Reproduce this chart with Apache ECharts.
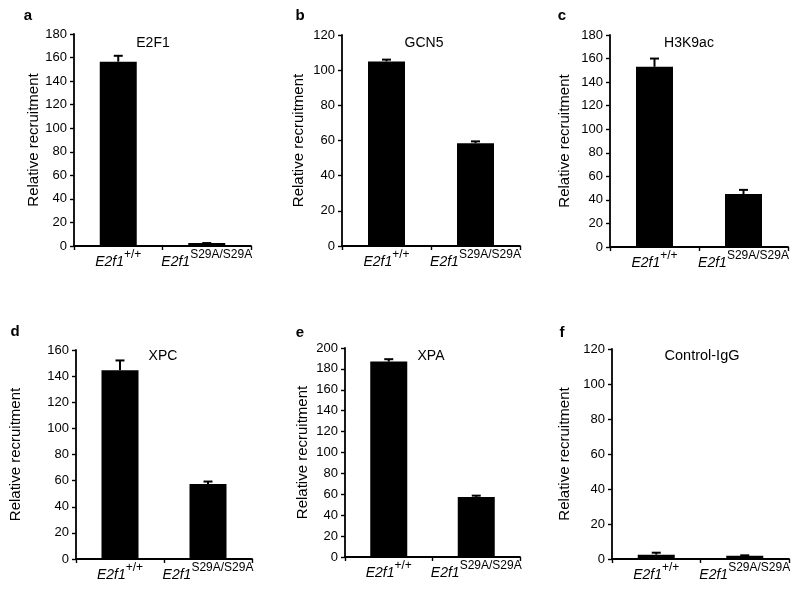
<!DOCTYPE html>
<html>
<head>
<meta charset="utf-8">
<script src="https://cdn.jsdelivr.net/npm/echarts@6/dist/echarts.min.js"></script>
<style>html,body{margin:0;padding:0;background:#fff;}#main{width:800px;height:590px;}</style>
</head>
<body>
<div id="main"></div>
<script>
// ---- data ----
const categories = ['E2f1+/+', 'E2f1S29A/S29A'];
const panelLetters = ['a', 'b', 'c', 'd', 'e', 'f'];
const panelTitles = ['E2F1', 'GCN5', 'H3K9ac', 'XPC', 'XPA', 'Control-IgG'];
const yMaxes = [180, 120, 180, 160, 200, 120];
const yInterval = 20;
const e2f1Values = [156.5, 2.5];
const e2f1Errors = [5, 0];
const gcn5Values = [105, 58.5];
const gcn5Errors = [1, 1];
const h3k9acValues = [153, 45];
const h3k9acErrors = [7, 3.5];
const xpcValues = [144.5, 57.5];
const xpcErrors = [7.5, 1.8];
const xpaValues = [187, 57.5];
const xpaErrors = [2.3, 1.2];
const iggValues = [2.5, 1.9];
const iggErrors = [1.1, 0.2];
const allValues = [e2f1Values, gcn5Values, h3k9acValues, xpcValues, xpaValues, iggValues];
const allErrors = [e2f1Errors, gcn5Errors, h3k9acErrors, xpcErrors, xpaErrors, iggErrors];

// ---- layout ----
const grids = [
  {left: 74, top: 34, width: 177, height: 212},
  {left: 342, top: 35, width: 178, height: 211},
  {left: 610, top: 35, width: 178, height: 212},
  {left: 76, top: 350, width: 176, height: 209},
  {left: 345, top: 348, width: 175, height: 209},
  {left: 612, top: 349, width: 177, height: 210}
];
const nameGaps = [33, 36, 38, 53, 35, 40];
const titlePos = [[153, 43], [424, 43], [689, 43], [163, 356], [431, 356], [702, 356]];
const titleSizes = [14, 14, 14, 14, 14, 14.5];
const letterPos = [[28, 16], [300, 16], [562, 16], [15, 332], [300, 333], [562, 333]];

const FONT = 'Liberation Sans, Arial, Helvetica, sans-serif';

const chart = echarts.init(document.getElementById('main'), null, {renderer: 'canvas'});

const xAxes = [], yAxes = [], series = [], graphics = [];
grids.forEach((g, i) => {
  xAxes.push({
    type: 'category', gridIndex: i, data: categories,
    axisLine: {lineStyle: {color: '#000', width: 1.8}},
    axisTick: {show: true, length: 4, lineStyle: {color: '#000', width: 1.4}},
    axisLabel: {
      margin: 3, interval: 0,
      formatter: v => '{it|E2f1}{sup|' + v.slice(4) + '}',
      rich: {
        it: {fontFamily: FONT, fontStyle: 'italic', fontSize: 14, color: '#000', lineHeight: 20, verticalAlign: 'bottom'},
        sup: {fontFamily: FONT, fontSize: 12, color: '#000', lineHeight: 12, verticalAlign: 'top'}
      }
    }
  });
  yAxes.push({
    type: 'value', gridIndex: i, min: 0, max: yMaxes[i], interval: yInterval,
    name: 'Relative recruitment', nameLocation: 'middle', nameGap: nameGaps[i],
    nameTextStyle: {fontFamily: FONT, fontSize: 15, color: '#000'},
    axisLine: {show: true, lineStyle: {color: '#000', width: 1.8}},
    axisTick: {show: true, length: 4, lineStyle: {color: '#000', width: 1.4}},
    axisLabel: {margin: 7, fontFamily: FONT, fontSize: 13, color: '#000'},
    splitLine: {show: false}
  });
  series.push({
    type: 'bar', xAxisIndex: i, yAxisIndex: i, data: allValues[i],
    barWidth: 37, itemStyle: {color: '#000'}, silent: true, animation: false
  });
  const errData = allValues[i].map((v, k) => [k, v, v + allErrors[i][k]]);
  series.push({
    type: 'custom', xAxisIndex: i, yAxisIndex: i, data: errData, animation: false, silent: true,
    renderItem: (params, api) => {
      const x = api.value(0);
      const lo = api.coord([x, api.value(1)]);
      const hi = api.coord([x, api.value(2)]);
      const cap = 4.5;
      return {
        type: 'group',
        children: [
          {type: 'line', shape: {x1: lo[0], y1: lo[1], x2: hi[0], y2: hi[1]}, style: {stroke: '#000', lineWidth: 2}},
          {type: 'line', shape: {x1: hi[0] - cap, y1: hi[1], x2: hi[0] + cap, y2: hi[1]}, style: {stroke: '#000', lineWidth: 2}}
        ]
      };
    }
  });
  graphics.push({
    type: 'text', x: titlePos[i][0], y: titlePos[i][1],
    style: {text: panelTitles[i], font: titleSizes[i] + 'px ' + FONT, fill: '#000', align: 'center', verticalAlign: 'middle', textAlign: 'center', textVerticalAlign: 'middle'}
  });
  graphics.push({
    type: 'text', x: letterPos[i][0], y: letterPos[i][1],
    style: {text: panelLetters[i], font: 'bold 15px ' + FONT, fill: '#000', align: 'center', verticalAlign: 'middle', textAlign: 'center', textVerticalAlign: 'middle'}
  });
});

chart.setOption({
  animation: false,
  backgroundColor: '#fff',
  grid: grids,
  xAxis: xAxes,
  yAxis: yAxes,
  series: series,
  graphic: graphics
});
</script>
</body>
</html>
